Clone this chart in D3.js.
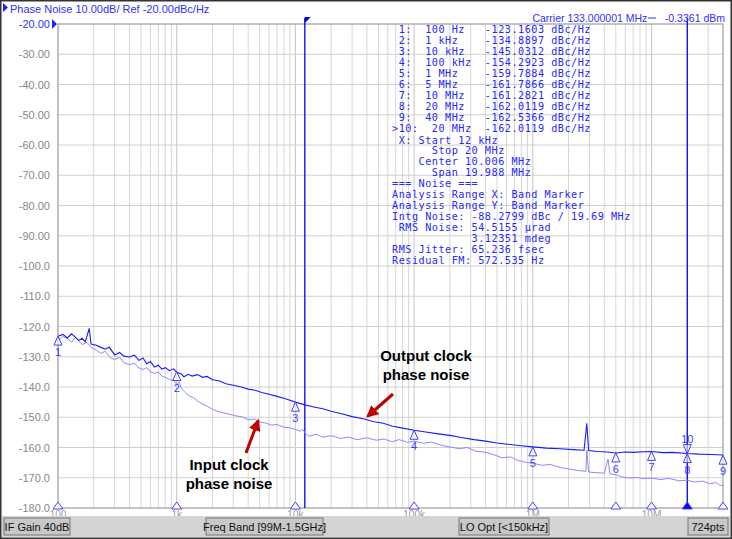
<!DOCTYPE html>
<html><head><meta charset="utf-8">
<script src="https://cdn.jsdelivr.net/npm/d3@7"></script>
<style>body{margin:0;background:#fff}svg{display:block}</style>
</head><body>
<script>
// ---- data ----
const yTicks = [-20,-30,-40,-50,-60,-70,-80,-90,-100,-110,-120,-130,-140,-150,-160,-170,-180];
const xTickVals = [100,1e3,1e4,1e5,1e6,1e7];
const xTickLabels = ["100","1k","10k","100k","1M","10M"];
const outputTrace = [
[100,-123.2],[110,-122.6],[120,-123.8],[130,-122.4],[140,-123.5],[150,-124.6],[160,-123.9],[170,-125.1],[183,-120.6],[190,-125.8],
[210,-126.2],[230,-126.9],[250,-127.5],[270,-126.8],[300,-129.4],[330,-128.6],[360,-129.8],[400,-130.1],[440,-129.5],[480,-131.2],
[520,-130.4],[560,-132.3],[600,-131.6],[650,-133.4],[700,-132.8],[750,-134.1],[800,-133.6],[870,-134.6],[940,-134.0],[1000,-135.1],
[1080,-135.6],[1150,-136.6],[1250,-135.8],[1350,-136.4],[1500,-135.9],[1650,-136.8],[1800,-136.5],[2000,-137.6],[2300,-138.0],[2600,-138.9],
[3000,-139.4],[3500,-140.0],[4000,-140.7],[4600,-141.1],[5200,-141.8],[6000,-142.4],[7000,-143.1],[8000,-143.7],[9000,-144.4],[10000,-145.0],
[12000,-145.9],[14000,-146.5],[17000,-147.2],[20000,-148.0],[25000,-148.9],[30000,-149.8],[38000,-150.6],[46000,-151.5],[55000,-152.0],[65000,-152.9],
[80000,-153.6],[100000,-154.3],[125000,-154.9],[160000,-155.5],[200000,-156.0],[250000,-156.7],[320000,-157.4],[400000,-157.9],[500000,-158.5],[640000,-159.0],
[800000,-159.4],[1000000,-159.8],[1300000,-160.2],[1700000,-160.4],[2200000,-160.7],[2700000,-160.9],[2850000,-152.0],[2950000,-161.0],[3500000,-161.3],[4200000,-161.5],
[5000000,-161.8],[6000000,-161.5],[7000000,-161.6],[8500000,-161.4],[10000000,-161.3],[12500000,-161.7],[15000000,-161.6],[20000000,-162.0],[25000000,-162.2],[32000000,-162.3],[40000000,-162.5]
];
const inputTrace = [
[100,-124.5],[110,-123.3],[120,-124.0],[130,-125.2],[140,-123.6],[150,-124.8],[160,-126.0],[175,-125.2],[190,-126.9],[210,-127.8],
[230,-128.9],[250,-128.2],[275,-130.3],[300,-130.9],[330,-130.2],[360,-132.0],[400,-132.6],[440,-132.1],[480,-133.7],[520,-134.2],
[560,-133.6],[600,-135.0],[650,-135.5],[700,-135.0],[750,-136.4],[800,-136.8],[870,-137.5],[940,-137.9],[1000,-139.1],[1050,-138.4],
[1100,-140.6],[1180,-141.8],[1270,-142.9],[1380,-143.5],[1500,-144.6],[1650,-145.7],[1800,-146.3],[2000,-147.4],[2200,-148.0],[2500,-148.6],
[2800,-149.0],[3200,-149.6],[3600,-149.9],[4000,-150.8],[4500,-150.6],[5000,-151.5],[5600,-151.9],[6300,-152.6],[7000,-152.4],[8000,-153.3],
[9000,-153.5],[10000,-154.0],[11000,-154.6],[11500,-154.0],[12200,-155.4],[13000,-156.3],[15000,-155.6],[17000,-156.6],[20000,-156.1],[24000,-157.0],
[28000,-156.5],[33000,-157.4],[40000,-156.8],[48000,-157.6],[56000,-157.2],[65000,-158.1],[75000,-157.4],[88000,-158.3],[100000,-157.9],[120000,-158.6],
[140000,-158.2],[170000,-159.3],[200000,-159.8],[240000,-160.4],[280000,-160.0],[330000,-161.2],[400000,-161.6],[470000,-162.4],[550000,-163.4],[650000,-163.1],
[750000,-164.3],[880000,-164.9],[1000000,-165.2],[1200000,-165.9],[1400000,-165.6],[1700000,-166.6],[2000000,-167.1],[2400000,-167.6],[2800000,-167.9],[2850000,-160.8],
[2950000,-168.1],[3400000,-168.3],[4000000,-168.5],[4300000,-163.8],[4450000,-168.7],[5000000,-169.0],[5600000,-169.7],[6500000,-170.1],[7500000,-169.9],[8500000,-170.3],
[10000000,-170.1],[12000000,-170.6],[14000000,-170.2],[17000000,-171.0],[20000000,-170.8],[23000000,-171.4],[27000000,-171.1],[31000000,-172.0],[35000000,-171.6],[38000000,-172.6],[40000000,-172.4]
];
const markerFreqs = [100,1e3,1e4,1e5,1e6,5e6,1e7,2e7,4e7];
const markerVals = [-123.1603,-134.8897,-145.0312,-154.2923,-159.7884,-161.7866,-161.2821,-162.0119,-162.5366];
const markerLabels = ["1","2","3","4","5","6","7","8","9"];
const bandStart = 12e3, bandStop = 20e6;
const tableLines = [
" 1:  100 Hz   -123.1603 dBc/Hz",
" 2:  1 kHz    -134.8897 dBc/Hz",
" 3:  10 kHz   -145.0312 dBc/Hz",
" 4:  100 kHz  -154.2923 dBc/Hz",
" 5:  1 MHz    -159.7884 dBc/Hz",
" 6:  5 MHz    -161.7866 dBc/Hz",
" 7:  10 MHz   -161.2821 dBc/Hz",
" 8:  20 MHz   -162.0119 dBc/Hz",
" 9:  40 MHz   -162.5366 dBc/Hz",
">10:  20 MHz  -162.0119 dBc/Hz",
" X: Start 12 kHz",
"      Stop 20 MHz",
"    Center 10.006 MHz",
"      Span 19.988 MHz",
"=== Noise ===",
"Analysis Range X: Band Marker",
"Analysis Range Y: Band Marker",
"Intg Noise: -88.2799 dBc / 19.69 MHz",
" RMS Noise: 54.5155 µrad",
"            3.12351 mdeg",
"RMS Jitter: 65.236 fsec",
"Residual FM: 572.535 Hz"
];
const statusItems = ["IF Gain 40dB","Freq Band [99M-1.5GHz]","LO Opt [<150kHz]","724pts"];

// ---- drawing ----
const W=732,H=539, L=58,T=24,R=723,B=508;
const svg=d3.select("body").append("svg").attr("width",W).attr("height",H);
svg.append("rect").attr("width",W).attr("height",H).attr("fill","#fff");
svg.append("rect").attr("x",0.5).attr("y",0.5).attr("width",W-1).attr("height",H-1).attr("fill","none").attr("stroke","#333").attr("stroke-width",2);
const x=d3.scaleLog().domain([100,4e7]).range([L,R]);
const y=d3.scaleLinear().domain([-180,-20]).range([B,T]);
const blue="#1a1aff", light="#8a8aff";

// grid
const minor=[];
for(let e=2;e<=7;e++)for(let m=1;m<=9;m++){const f=m*Math.pow(10,e);if(f>=100&&f<=4e7)minor.push(f);}
svg.append("g").selectAll("line").data(minor).join("line")
 .attr("x1",d=>x(d)).attr("x2",d=>x(d)).attr("y1",T).attr("y2",B)
 .attr("stroke",d=>xTickVals.includes(d)?"#c4c4c4":"#d6d6d6").attr("stroke-width",1);
svg.append("g").selectAll("line").data(yTicks).join("line")
 .attr("x1",L).attr("x2",R).attr("y1",d=>y(d)).attr("y2",d=>y(d)).attr("stroke","#d0d0d0");
svg.append("rect").attr("x",L).attr("y",T).attr("width",R-L).attr("height",B-T).attr("fill","none").attr("stroke","#a0a0a0");

// y labels
svg.append("g").selectAll("text").data(yTicks).join("text")
 .attr("x",50).attr("y",d=>y(d)+4).attr("text-anchor","end")
 .attr("font-family","Liberation Sans, Arial").attr("font-size",11)
 .attr("fill",(d,i)=>i===0?"#3030ff":"#888")
 .text(d=>d>=-90?d.toFixed(2):d.toFixed(1));
svg.append("path").attr("d",`M52,${T-5}L57,${T}L52,${T+5}Z`).attr("fill","#2020ff");

// x labels
svg.append("g").selectAll("text").data(xTickVals).join("text")
 .attr("x",d=>x(d)).attr("y",B+10).attr("text-anchor","middle")
 .attr("font-family","Liberation Sans, Arial").attr("font-size",10).attr("fill","#999")
 .text((d,i)=>xTickLabels[i]);

// band marker lines
[bandStart,bandStop].forEach(f=>{
 svg.append("line").attr("x1",x(f)).attr("x2",x(f)).attr("y1",T-6).attr("y2",B).attr("stroke","#0000ff").attr("stroke-width",1.3);
});
svg.append("path").attr("d",`M${x(bandStart)},${T-7}L${x(bandStart)+6},${T-7}L${x(bandStart)},${T-1}Z`).attr("fill","#0000ff");

// traces
const line=d3.line().x(d=>x(d[0])).y(d=>y(d[1]));
svg.append("path").datum(inputTrace).attr("d",line).attr("fill","none").attr("stroke",light).attr("stroke-width",1);
svg.append("path").datum(outputTrace).attr("d",line).attr("fill","none").attr("stroke",blue).attr("stroke-width",1.1);

// markers
markerFreqs.forEach((f,i)=>{
 const px=x(f), py=y(markerVals[i]);
 svg.append("path").attr("d",`M${px},${py}L${px-4},${py+9}L${px+4},${py+9}Z`).attr("fill","#fff").attr("fill-opacity",0.6).attr("stroke","#4040ff");
 svg.append("text").attr("x",px).attr("y",py+20).attr("text-anchor","middle").attr("font-family","Liberation Sans, Arial").attr("font-size",11).attr("fill","#4040ff").text(markerLabels[i]);
 svg.append("path").attr("d",`M${px},${B-6}L${px-5},${B+1}L${px+5},${B+1}Z`).attr("fill",f===2e7?"#0000ff":"#fff").attr("stroke","#4040ff");
});
{const px=x(2e7), py=y(-162.0119);
 svg.append("path").attr("d",`M${px},${py}L${px-4},${py-9}L${px+4},${py-9}Z`).attr("fill","#fff").attr("fill-opacity",0.6).attr("stroke","#4040ff");
 svg.append("text").attr("x",px).attr("y",py-11).attr("text-anchor","middle").attr("font-family","Liberation Sans, Arial").attr("font-size",11).attr("fill","#4040ff").text("10");}

// table
svg.append("g").selectAll("text").data(tableLines).join("text")
 .attr("x",392).attr("y",(d,i)=>i<10?33+i*11:34+i*10.95)
 .attr("font-family","DejaVu Sans Mono, monospace").attr("font-size",10.2).attr("letter-spacing",0.5).attr("fill","#2828ff")
 .attr("xml:space","preserve").style("white-space","pre").text(d=>d);

// header
svg.append("path").attr("d","M3,3L8,7.5L3,12Z").attr("fill","#2020ff");
svg.append("text").attr("x",10).attr("y",13).attr("font-family","Liberation Sans, Arial").attr("font-size",11).attr("fill","#3030ff").text("Phase Noise 10.00dB/ Ref -20.00dBc/Hz");
svg.append("text").attr("x",725).attr("y",22).attr("text-anchor","end").attr("font-family","Liberation Sans, Arial").attr("font-size",10.5).attr("fill","#3030ff").attr("xml:space","preserve").style("white-space","pre").text("Carrier 133.000001 MHz      -0.3361 dBm");
svg.append("line").attr("x1",648).attr("x2",656).attr("y1",18).attr("y2",18).attr("stroke","#3030ff");

// annotations
function note(lines,cx,cy){lines.forEach((t,i)=>svg.append("text").attr("x",cx).attr("y",cy+i*19).attr("text-anchor","middle").attr("font-family","Liberation Sans, Arial").attr("font-weight","bold").attr("font-size",15).attr("fill","#000").text(t));}
note(["Output clock","phase noise"],426,361);
note(["Input clock","phase noise"],229,470);
svg.append("defs").append("marker").attr("id","ah").attr("viewBox","0 0 10 10").attr("refX",8).attr("refY",5).attr("markerWidth",4).attr("markerHeight",4).attr("orient","auto")
 .append("path").attr("d","M0,0L10,5L0,10Z").attr("fill","#c00000");
svg.append("line").attr("x1",393).attr("y1",394).attr("x2",368).attr("y2",416).attr("stroke","#c00000").attr("stroke-width",3).attr("marker-end","url(#ah)");
svg.append("line").attr("x1",246).attr("y1",453).attr("x2",258).attr("y2",421).attr("stroke","#c00000").attr("stroke-width",3).attr("marker-end","url(#ah)");

// status bar
svg.append("rect").attr("x",2).attr("y",516).attr("width",W-4).attr("height",21).attr("fill","#d4d4d4");
const boxes=[[4,66],[206,117],[459,90],[688,40]];
statusItems.forEach((t,i)=>{
 const [bx,bw]=boxes[i];
 svg.append("rect").attr("x",bx).attr("y",518).attr("width",bw).attr("height",17).attr("fill","#c8c8c8").attr("stroke","#777");
 svg.append("text").attr("x",bx+bw/2).attr("y",531).attr("text-anchor","middle").attr("font-family","Liberation Sans, Arial").attr("font-size",11).attr("fill","#111").text(t);
});
</script>
</body></html>
